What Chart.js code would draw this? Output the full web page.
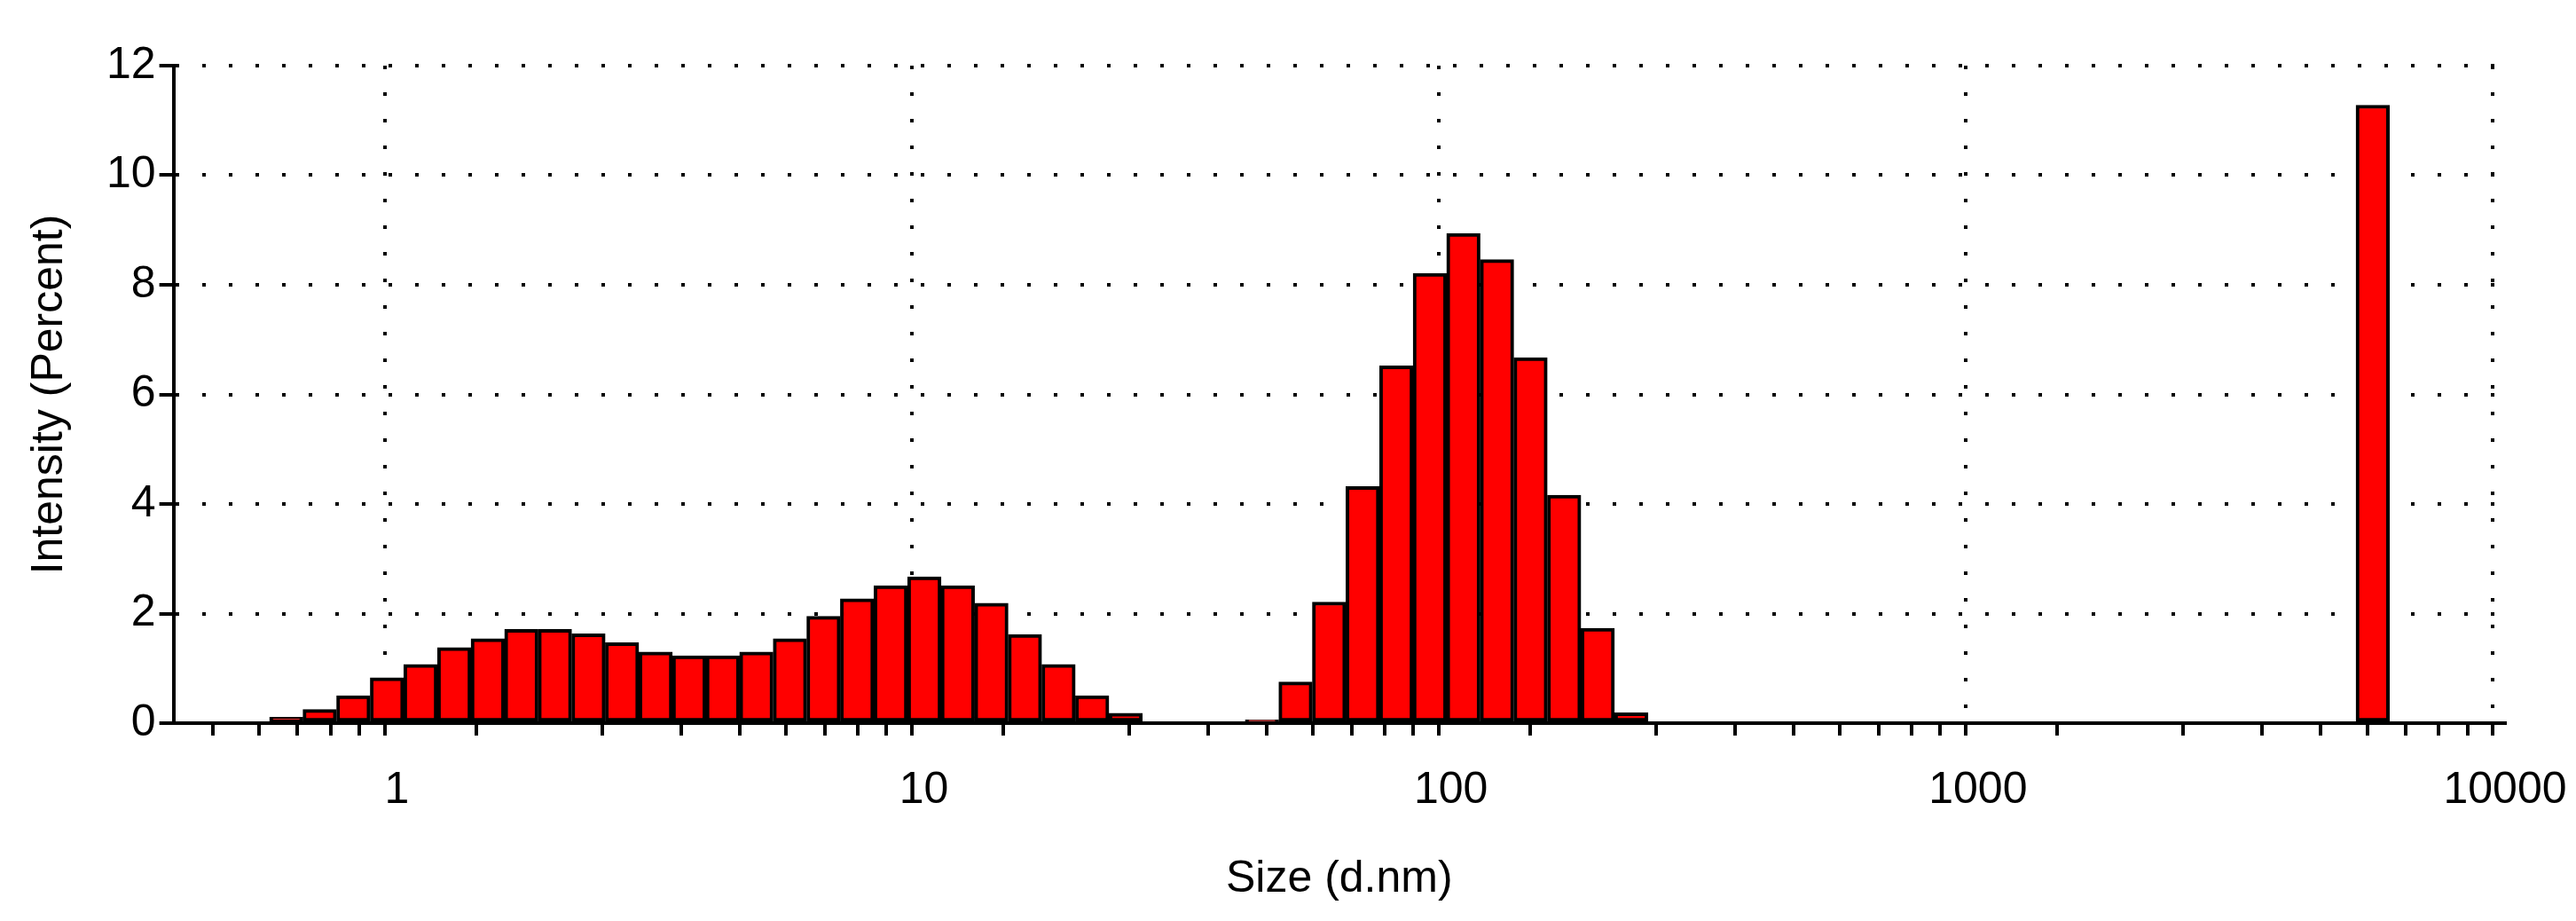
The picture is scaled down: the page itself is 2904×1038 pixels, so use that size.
<!DOCTYPE html>
<html><head><meta charset="utf-8">
<script src="https://cdn.jsdelivr.net/npm/chart.js@4.4.0/dist/chart.umd.min.js"></script>
<style>html,body{margin:0;padding:0;background:#fff}#wrap{width:2904px;height:1038px}</style>
</head><body><div id="wrap"><canvas id="c"></canvas></div>
<script>
const sizes = [0.617,0.714,0.827,0.958,1.109,1.285,1.488,1.723,1.995,2.310,2.675,3.098,3.587,4.154,4.810,5.570,6.450,7.470,8.650,10.02,11.60,13.43,15.55,18.01,20.86,24.15,
  43.80,50.72,58.73,68.01,78.76,91.20,105.6,122.3,141.6,164.0,189.9,219.9,5610];
const intensity = [0.11,0.25,0.5,0.83,1.07,1.38,1.54,1.71,1.71,1.63,1.47,1.30,1.23,1.23,1.30,1.54,1.95,2.27,2.51,2.67,2.51,2.19,1.62,1.07,0.5,0.18,
  0.06,0.75,2.21,4.32,6.52,8.21,8.94,8.46,6.67,4.16,1.73,0.19,11.28];
const xLabels = [1,10,100,1000,10000];
const yLabels = [0,2,4,6,8,10,12];
const xTitle = 'Size (d.nm)', yTitle = 'Intensity (Percent)';

const font = {family:'Liberation Sans', size:50};
const isDecade = v => xLabels.includes(Math.round(v*1000)/1000);
const tv = c => (c && c.tick) ? c.tick.value : NaN;
new Chart(document.getElementById('c'), {
  type:'bar',
  data:{datasets:[{data:sizes.map((s,i)=>({x:s,y:intensity[i]})), xAxisID:'xb',
    backgroundColor:'#ff0000', borderColor:'#000', borderWidth:4, borderSkipped:false,
    barPercentage:1, categoryPercentage:1}]},
  options:{responsive:true, maintainAspectRatio:false, animation:false,
    layout:{padding:{top:74,right:0,left:22,bottom:13}},
    plugins:{legend:{display:false},tooltip:{enabled:false}},
    scales:{
      xb:{type:'logarithmic', display:false, min:0.377, max:10000,
        afterBuildTicks:s=>{s.ticks=xLabels.map(v=>({value:v}));}},
      x:{type:'logarithmic', min:0.377, max:10000, position:'bottom',
        afterBuildTicks:s=>{const t=[];for(let d=0.1;d<=1000;d*=10){for(let m=1;m<10;m++){const v=+(m*d).toPrecision(3);if(v>=0.377&&v<=10000)t.push({value:v});}}t.push({value:10000});s.ticks=t;},
        afterFit:s=>{s.paddingRight=80;},
        border:{display:true,color:'#000',width:4,dash:[4,26]},
        grid:{color:c=>isDecade(tv(c))?'#000':'rgba(0,0,0,0)', lineWidth:4,
          tickColor:'#000', tickLength:14, tickBorderDash:[], tickWidth:4, drawOnChartArea:true},
        ticks:{autoSkip:false, maxRotation:0, color:'#000', font, padding:32,
          callback:v=>isDecade(v)?String(Math.round(v)):''},
        title:{display:true,text:xTitle,color:'#000',font,padding:{top:8}}},
      y:{type:'linear', min:0, max:12,
        afterBuildTicks:s=>{const t=[];for(let v=0;v<=12;v++)t.push({value:v});s.ticks=t;},
        border:{display:true,color:'#000',width:4,dash:[4,26]},
        grid:{color:c=>{const v=tv(c);return (v%2===0&&v>0)?'#000':'rgba(0,0,0,0)';}, lineWidth:4,
          tickColor:'#000', tickLength:16, tickBorderDash:[], tickWidth:4},
        ticks:{color:'#000', font, padding:4, callback:v=>yLabels.includes(v)?String(v):''},
        title:{display:true,text:yTitle,color:'#000',font,padding:{bottom:30}}}
    }}
});
</script></body></html>
